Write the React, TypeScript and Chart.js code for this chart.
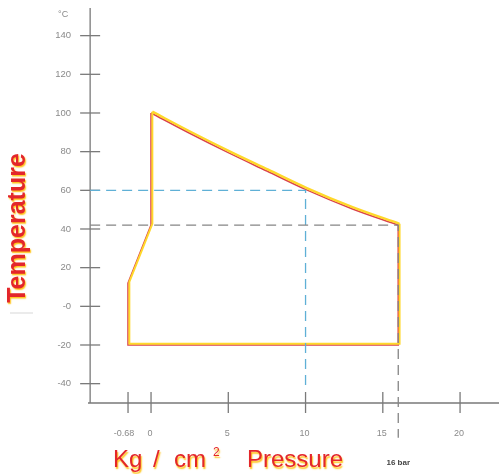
import React, { useEffect, useRef } from "react";
import { Chart, registerables, LinearScale } from "chart.js";

// x axis is drawn with the negative (vacuum) side stretched, as in the original diagram
const NEG_STRETCH = 2.19;

class StretchedScale extends (LinearScale as any) {
  static id = "stretched";
  static defaults = (LinearScale as any).defaults;
  getPixelForValue(value: number) {
    const v = value < 0 ? value * NEG_STRETCH : value;
    return super.getPixelForValue(v);
  }
}

Chart.register(...registerables, StretchedScale as any);

// ---- data ----
const yAxisAt = -1.8;
const curveX = [0, 2.5, 5, 7.5, 10, 13, 16];
const curveY = [100, 89.5, 79.5, 70, 60.5, 50.5, 42];
const outlineX = [16, 16, -0.68, -0.68, 0, 0];
const outlineY = [42, -20, -20, 12, 42, 100];
const blueGuideX = [yAxisAt, 10, 10];
const blueGuideY = [60, 60, -41];
const grayGuideX = [yAxisAt, 16, 16];
const grayGuideY = [42, 42, -68];
const markerX = [16];
const markerY = [-72];
const xTicks = [-0.68, 0, 5, 10, 15, 20];
const xTickLabels = ["-0.68", "0", "5", "10", "15", "20"];
const yTicks = [140, 120, 100, 80, 60, 40, 20, 0, -20, -40];
const yTickLabels = ["140", "120", "100", "80", "60", "40", "20", "-0", "-20", "-40"];
const yUnit = "°C";
const yTitle = "Temperature";
const xTitleParts = ["Kg", "/", "cm"];
const xTitleSup = "2";
const xTitleB = "Pressure";
const markerLabel = "16 bar";

const pts = (xs: number[], ys: number[]) => xs.map((x, i) => ({ x, y: ys[i] }));

const FONT = "'Liberation Sans', Arial, sans-serif";

const decorPlugin = {
  id: "decor",
  beforeDatasetDraw(chart: any, args: any) {
    const ds = chart.data.datasets[args.index];
    if (ds.glow) {
      chart.ctx.save();
      chart.ctx.translate(1.3, -1.3);
    }
  },
  afterDatasetDraw(chart: any, args: any) {
    const ds = chart.data.datasets[args.index];
    if (ds.glow) chart.ctx.restore();
  },
  beforeDatasetsDraw(chart: any) {
    const { ctx, chartArea, scales } = chart;
    const xs = scales.x;
    const ys = scales.y;
    const axX = xs.getPixelForValue(yAxisAt);
    const axY = chartArea.bottom;
    ctx.save();
    ctx.strokeStyle = "#7a7a7a";
    ctx.lineWidth = 1.3;
    ctx.beginPath();
    ctx.moveTo(axX, chartArea.top);
    ctx.lineTo(axX, axY);
    ctx.moveTo(chartArea.left, axY);
    ctx.lineTo(chartArea.right, axY);
    ctx.stroke();
    ctx.fillStyle = "#8a8a8a";
    ctx.font = `9.5px ${FONT}`;
    ctx.textAlign = "right";
    ctx.textBaseline = "middle";
    yTicks.forEach((v, i) => {
      const py = ys.getPixelForValue(v);
      ctx.beginPath();
      ctx.moveTo(axX - 10, py);
      ctx.lineTo(axX + 10, py);
      ctx.stroke();
      ctx.fillText(yTickLabels[i], axX - 19, py);
    });
    ctx.textAlign = "center";
    ctx.font = `9px ${FONT}`;
    xTicks.forEach((v, i) => {
      const px = xs.getPixelForValue(v);
      ctx.beginPath();
      ctx.moveTo(px, axY - 11);
      ctx.lineTo(px, axY + 10);
      ctx.stroke();
      ctx.fillText(xTickLabels[i], px - (v < 0 ? 4 : 1), axY + 31);
    });
    ctx.fillText(yUnit, axX - 27, chartArea.top + 7);
    ctx.strokeStyle = "#e4e4e4";
    ctx.lineWidth = 1.5;
    ctx.beginPath();
    ctx.moveTo(10, 313);
    ctx.lineTo(33, 313);
    ctx.stroke();
    ctx.restore();
  },
  afterDraw(chart: any) {
    const { ctx, scales } = chart;
    ctx.save();
    ctx.fillStyle = "#444";
    ctx.font = `bold 8px ${FONT}`;
    ctx.textAlign = "center";
    ctx.textBaseline = "middle";
    ctx.fillText(markerLabel, scales.x.getPixelForValue(markerX[0]), 463);

    ctx.shadowColor = "rgba(255,190,0,0.95)";
    ctx.shadowOffsetX = 1;
    ctx.shadowOffsetY = 1.5;
    ctx.shadowBlur = 1.5;
    ctx.fillStyle = "#e3262b";
    ctx.save();
    ctx.translate(18, 228);
    ctx.rotate(-Math.PI / 2);
    ctx.font = `bold 25px ${FONT}`;
    ctx.textAlign = "center";
    ctx.textBaseline = "middle";
    ctx.fillText(yTitle, 0, 0);
    ctx.restore();
    ctx.textAlign = "left";
    ctx.textBaseline = "alphabetic";
    ctx.font = `24px ${FONT}`;
    const partX = [113, 153, 174];
    xTitleParts.forEach((p, i) => ctx.fillText(p, partX[i], 467));
    ctx.font = `12px ${FONT}`;
    ctx.fillText(xTitleSup, 213, 456);
    ctx.font = `24px ${FONT}`;
    ctx.fillText(xTitleB, 247, 467);
    ctx.restore();
  },
};

export default function App() {
  const ref = useRef<HTMLCanvasElement>(null);
  useEffect(() => {
    if (!ref.current) return;
    const yellow = "#ffd82a";
    const red = "#d9414d";
    const chart = new Chart(ref.current, {
      type: "line",
      data: {
        datasets: [
          {
            data: pts(grayGuideX, grayGuideY),
            borderColor: "#858585",
            borderWidth: 1.3,
            borderDash: [10, 6],
            pointRadius: 0,
            tension: 0,
            clip: false,
          } as any,
          {
            data: pts(blueGuideX, blueGuideY),
            borderColor: "#5fb0d6",
            borderWidth: 1.3,
            borderDash: [10, 6],
            pointRadius: 0,
            tension: 0,
            clip: false,
          } as any,
          {
            data: pts(curveX, curveY),
            borderColor: yellow,
            borderWidth: 2.4,
            pointRadius: 0,
            cubicInterpolationMode: "monotone",
            glow: true,
          } as any,
          {
            data: pts(outlineX, outlineY),
            borderColor: yellow,
            borderWidth: 2,
            pointRadius: 0,
            tension: 0,
            glow: true,
          } as any,
          {
            data: pts(curveX, curveY),
            borderColor: red,
            borderWidth: 1.6,
            pointRadius: 0,
            cubicInterpolationMode: "monotone",
          } as any,
          {
            data: pts(outlineX, outlineY),
            borderColor: red,
            borderWidth: 1.6,
            pointRadius: 0,
            tension: 0,
          } as any,
          {
            data: pts(markerX, markerY),
            showLine: false,
            pointStyle: "triangle",
            rotation: 180,
            pointRadius: 5.5,
            pointBackgroundColor: "#111",
            pointBorderColor: "#111",
            clip: false,
          } as any,
        ],
      },
      options: {
        animation: false,
        responsive: false,
        maintainAspectRatio: false,
        layout: { autoPadding: false, padding: { left: 88, right: 0, top: 8, bottom: 71 } },
        plugins: { legend: { display: false }, tooltip: { enabled: false } },
        scales: {
          x: { type: "stretched", min: -4.08, max: 22.52, display: false } as any,
          y: { type: "linear", min: -50, max: 154.3, display: false },
        },
      },
      plugins: [decorPlugin],
    });
    return () => chart.destroy();
  }, []);
  return (
    <div style={{ position: "absolute", left: 0, top: 0, width: 499, height: 474, background: "#fff" }}>
      <canvas ref={ref} width={499} height={474} />
    </div>
  );
}
